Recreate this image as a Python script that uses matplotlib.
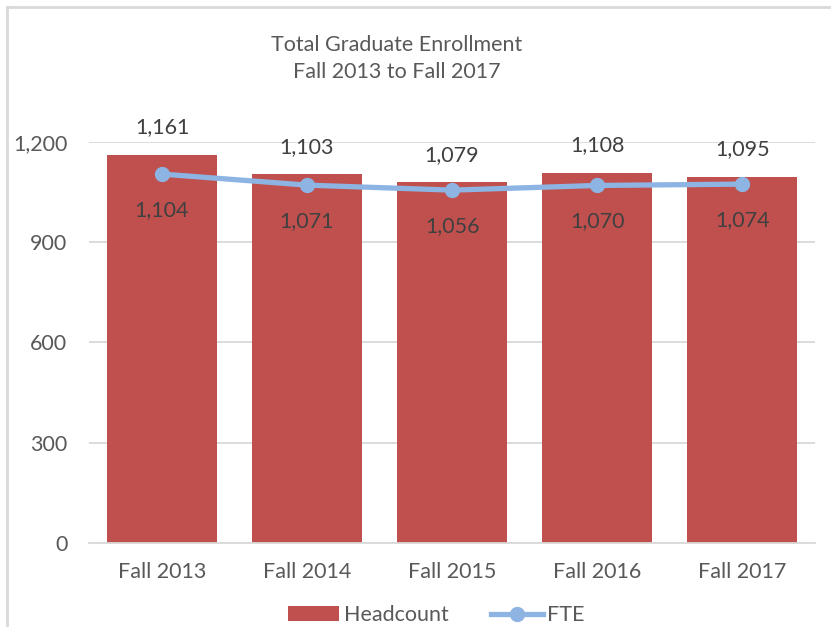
import matplotlib.pyplot as plt
from matplotlib.lines import Line2D
from matplotlib.patches import Patch

terms = ["Fall 2013", "Fall 2014", "Fall 2015", "Fall 2016", "Fall 2017"]
headcount = [1161, 1103, 1079, 1108, 1095]
fte = [1104, 1071, 1056, 1070, 1074]

bar_color = "#C0504D"
line_color = "#8DB4E2"
text_color = "#595959"
grid_color = "#D9D9D9"
fs = 15.5

plt.rcParams['font.family'] = ['Lato', 'DejaVu Sans']

fig = plt.figure(figsize=(8.31, 6.27), dpi=100)
ax = fig.add_axes([0.1077, 0.134, 0.8726, 0.6395])

x = range(len(terms))
bars = ax.bar(x, headcount, width=0.76, color=bar_color, zorder=2)
ax.plot(x, fte, color=line_color, linewidth=3.8, marker='o', markersize=10,
        zorder=3, solid_capstyle='round')

# data labels
for i, v in enumerate(headcount):
    ax.annotate(f"{v:,}", (i, v), xytext=(0, 20), textcoords='offset points',
                ha='center', va='center', fontsize=fs, color='#404040',
                annotation_clip=False)
for i, v in enumerate(fte):
    ax.annotate(f"{v:,}", (i, v), xytext=(0, -26), textcoords='offset points',
                ha='center', va='center', fontsize=fs, color='#404040')

ax.set_xlim(-0.5, len(terms) - 0.5)
ax.set_ylim(0, 1200)
ax.set_yticks([0, 300, 600, 900, 1200])
ax.set_yticklabels(["0", "300", "600", "900", "1,200"])
ax.set_xticks(list(x))
ax.set_xticklabels(terms)
ax.tick_params(axis='both', length=0, labelsize=fs, colors=text_color)
ax.tick_params(axis='y', pad=16)
ax.tick_params(axis='x', pad=14)

ax.grid(axis='y', color=grid_color, linewidth=1.3, zorder=0)
ax.set_axisbelow(True)
for s in ['top', 'right', 'left']:
    ax.spines[s].set_visible(False)
ax.spines['bottom'].set_color(grid_color)
ax.spines['bottom'].set_linewidth(1.3)

fig.text(0.477, 0.907, "Total Graduate Enrollment\nFall 2013 to Fall 2017",
         ha='center', va='center', fontsize=fs, color=text_color, linespacing=1.45)

handles = [Patch(facecolor=bar_color, label="Headcount"),
           Line2D([0], [0], color=line_color, linewidth=3.8, marker='o',
                  markersize=10, label="FTE")]
fig.legend(handles=handles, loc='center', bbox_to_anchor=(0.525, 0.019), ncol=2,
           frameon=False, fontsize=fs, labelcolor=text_color, handlelength=2.4,
           handletextpad=0.2, columnspacing=2.0)

# chart border (top and left visible)
fig.add_artist(Line2D([0.0084, 1.0], [0.9888, 0.9888], color=grid_color,
                      linewidth=2, transform=fig.transFigure))
fig.add_artist(Line2D([0.0084, 0.0084], [0.0, 0.9888], color=grid_color,
                      linewidth=2, transform=fig.transFigure))

fig.savefig("out.png", dpi=100)
